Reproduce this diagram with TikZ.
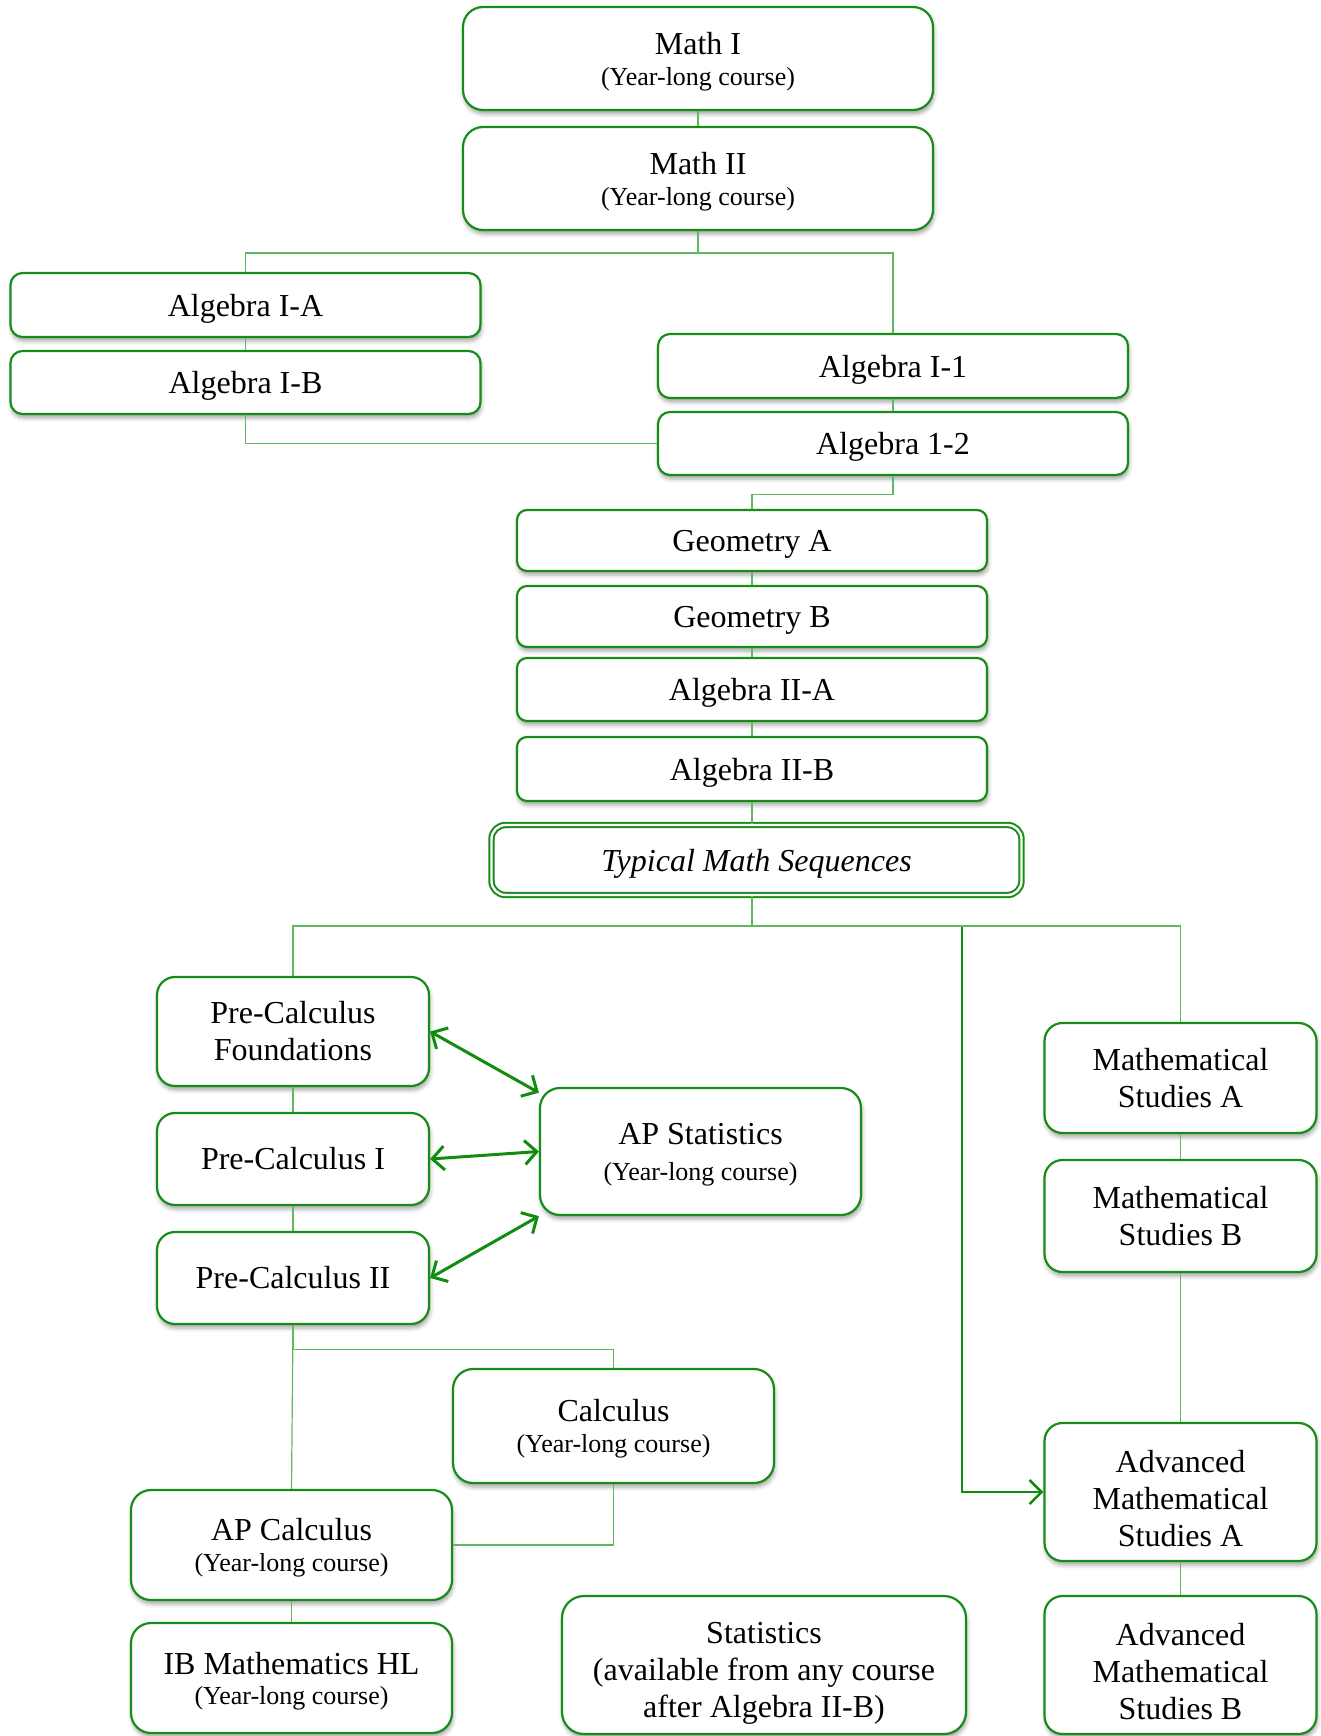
\documentclass[tikz,border=0pt]{standalone}
\usepackage{fontspec}
\setmainfont{Liberation Serif}
\usetikzlibrary{arrows.meta,shadows.blur}
\definecolor{boxgreen}{RGB}{24,140,24}
\definecolor{linkgreen}{RGB}{96,184,96}
\definecolor{arrowgreen}{RGB}{16,140,16}
\newcommand{\yearlong}{{\fontsize{26}{31}\selectfont(Year-long course)}}

\begin{document}
\begin{tikzpicture}[x=1pt, y=-1pt,
   box/.style={draw=boxgreen, line width=2.2pt, fill=white, rounded corners=12pt,
      align=center, inner sep=0pt, font=\fontsize{32}{37}\selectfont,
      blur shadow={shadow xshift=1pt, shadow yshift=-4pt, shadow blur radius=4pt, shadow opacity=35}},
   wide/.style={box, minimum width=470pt, text depth=-2pt},
   mid/.style={box, minimum width=272pt, rounded corners=18pt},
   big/.style={box, minimum width=321pt, rounded corners=20pt, text depth=-2pt},
   link/.style={draw=linkgreen, line width=1.2pt},
   both/.style={draw=arrowgreen, line width=3pt,
      {Straight Barb[length=12pt,width=24pt]}-{Straight Barb[length=12pt,width=24pt]}},
   onto/.style={draw=arrowgreen, line width=2.6pt, -{Straight Barb[length=12pt,width=24pt]}}]

\useasboundingbox (0,0) rectangle (1321,1736);

\node[wide, minimum height=103pt, rounded corners=20pt] (mathI) at (698,58.5) {Math I\\[-6pt]\yearlong};
\node[wide, minimum height=103pt, rounded corners=20pt] (mathII) at (698,178.5) {Math II\\[-6pt]\yearlong};

\node[wide, minimum height=64pt] (algIA) at (245.5,305) {Algebra I-A};
\node[wide, minimum height=63pt] (algIB) at (245.5,382.5) {Algebra I-B};
\node[wide, minimum height=64pt] (algIone) at (893,366) {Algebra I-1};
\node[wide, minimum height=63pt] (algItwo) at (893,443.5) {Algebra 1-2};

\node[wide, minimum height=61pt, rounded corners=10pt] (geoA) at (752,540.5) {Geometry A};
\node[wide, minimum height=61pt, rounded corners=10pt] (geoB) at (752,616.5) {Geometry B};
\node[wide, minimum height=63pt, rounded corners=10pt] (algIIA) at (752,689.5) {Algebra II-A};
\node[wide, minimum height=64pt, rounded corners=10pt] (algIIB) at (752,769) {Algebra II-B};

\node[box, blur shadow={shadow opacity=0}, minimum width=530pt, minimum height=70pt, rounded corners=14pt,
   line width=2pt, double=white, double distance=2.4pt, text depth=-2pt] (typical) at (756.5,860) {\itshape Typical Math Sequences};

\node[mid, minimum height=109pt] (pcf) at (293,1031.5) {Pre-Calculus\\Foundations};
\node[mid, minimum height=92pt] (pcI) at (293,1159) {Pre-Calculus I};
\node[mid, minimum height=92pt] (pcII) at (293,1278) {Pre-Calculus II};
\node[big, minimum height=127pt] (apstat) at (700.5,1151.5) {AP Statistics\\[-1pt]\yearlong};

\node[big, minimum height=114pt] (calc) at (613.5,1426) {Calculus\\[-6pt]\yearlong};
\node[big, minimum height=110pt] (apcalc) at (291.5,1545) {AP Calculus\\[-6pt]\yearlong};
\node[big, minimum height=110pt] (ib) at (291.5,1678) {IB Mathematics HL\\[-7pt]\yearlong};
\node[box, minimum width=404pt, minimum height=138pt, rounded corners=22pt, text height=112pt] (stats) at (764,1665)
   {Statistics\\(available from any course\\after Algebra II-B)};

\node[mid, minimum height=110pt] (msA) at (1180.5,1078) {Mathematical\\Studies A};
\node[mid, minimum height=112pt] (msB) at (1180.5,1216) {Mathematical\\Studies B};
\node[mid, minimum height=138pt, text height=109pt] (amsA) at (1180.5,1492) {Advanced\\Mathematical\\Studies A};
\node[mid, minimum height=138pt, text height=109pt] (amsB) at (1180.5,1665) {Advanced\\Mathematical\\Studies B};

\coordinate (amsturn) at (962,927);

\draw[link] (mathI) -- (mathII);
\draw[link] (mathII.south) -- ++(0,22) coordinate (top) -| (algIA.north);
\draw[link] (top) -| (algIone.north);
\draw[link] (algIA) -- (algIB);
\draw[link] (algIone) -- (algItwo);
\draw[link] (algIB.south) |- (algItwo.west);
\draw[link] (algItwo.south) -- ++(0,18) -| (geoA.north);
\draw[link] (geoA) -- (geoB);
\draw[link] (geoB) -- (algIIA);
\draw[link] (algIIA) -- (algIIB);
\draw[link] (algIIB.south) -- (algIIB.south |- typical.north);
\draw[link] (algIIB.south |- typical.south) -- ++(0,30) coordinate (split) -| (pcf.north);
\draw[link] (split) -| (msA.north);
\draw[link] (pcf) -- (pcI);
\draw[link] (pcI) -- (pcII);
\draw[link] (pcII.south) -- (apcalc.north);
\draw[link] (pcII.south) -- ++(0,24) -| (calc.north);
\draw[link] (calc.south) |- (apcalc.east);
\draw[link] (apcalc) -- (ib);
\draw[link] (msA) -- (msB);
\draw[link] (msB) -- (amsA);
\draw[link] (amsA) -- (amsB);

\draw[both] (pcf.east) -- (apstat.160);
\draw[both] (pcI.east) -- (apstat.west);
\draw[both] (pcII.east) -- (apstat.south west);
\draw[onto] (amsturn) |- (amsA.west);

\end{tikzpicture}
\end{document}
